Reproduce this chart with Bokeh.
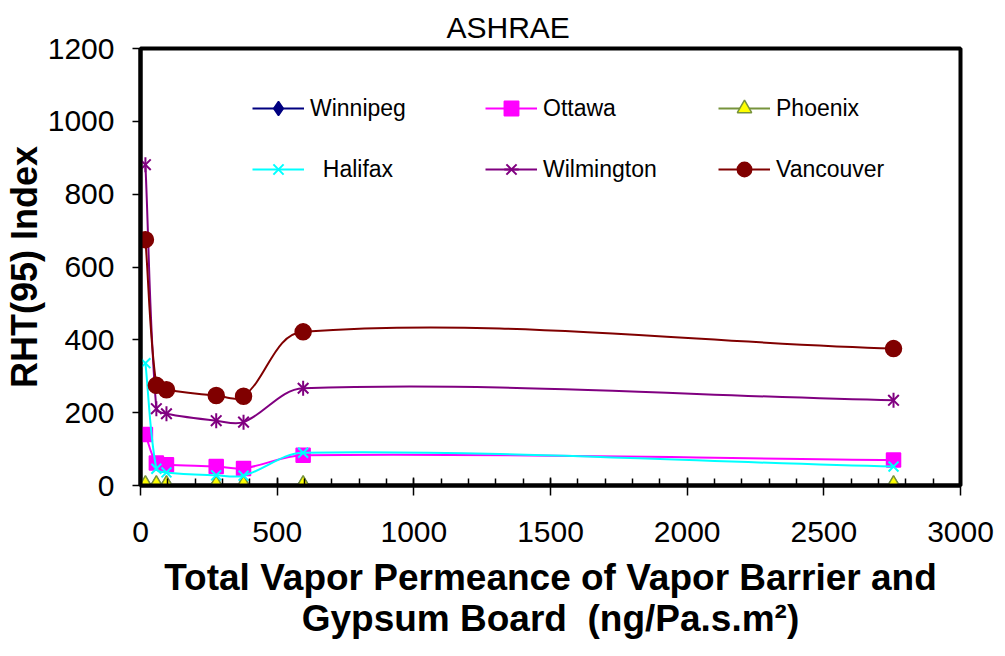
import math
from bokeh.plotting import figure
from bokeh.models import Range1d, SingleIntervalTicker, Legend, LegendItem
from bokeh.embed import file_html
from bokeh.resources import INLINE

# ---- data ----
x_vals = [18, 58, 95, 277, 377, 595, 2755]
winnipeg = [0, 0, 0, 0, 0, 0, 0]
ottawa = [140, 62, 57, 52, 47, 83, 70]
phoenix = [0, 0, 0, 0, 0, 0, 0]
halifax = [336, 46, 36, 28, 27, 90, 52]
wilmington = [881, 211, 197, 178, 174, 267, 234]
vancouver = [675, 275, 263, 247, 245, 422, 376]

title_text = "ASHRAE"
y_label = "RHT(95) Index"
x_label = "Total Vapor Permeance of Vapor Barrier and\nGypsum Board \u00a0(ng/Pa.s.m\u00b2)"

FONT = "Liberation Sans"
FRAME_W, FRAME_H = 820, 437
X_MAX, Y_MAX = 3000, 1200

p = figure(width=1000, height=650, output_backend="svg", toolbar_location=None,
           x_range=Range1d(0, X_MAX), y_range=Range1d(0, Y_MAX),
           frame_width=FRAME_W, frame_height=FRAME_H,
           min_border_left=140, min_border_right=40, min_border_top=48, min_border_bottom=165)
p.background_fill_color = "white"
p.border_fill_color = "white"
p.xgrid.visible = False
p.ygrid.visible = False
p.outline_line_color = "black"
p.outline_line_width = 4

p.title.text = title_text
p.title.align = "left"
p.title.offset = 306
p.title.standoff = 9
p.title.text_font = FONT
p.title.text_font_size = "30px"
p.title.text_font_style = "normal"
p.title.text_color = "black"

p.xaxis.ticker = SingleIntervalTicker(interval=500, num_minor_ticks=5)
p.yaxis.ticker = SingleIntervalTicker(interval=200, num_minor_ticks=0)
for ax in (p.xaxis, p.yaxis):
    ax.axis_line_width = 4
    ax.axis_line_color = "black"
    ax.major_tick_line_color = "black"
    ax.major_tick_line_width = 1.5
    ax.minor_tick_line_color = "black"
    ax.minor_tick_line_width = 1.5
    ax.major_label_text_font = FONT
    ax.major_label_text_font_size = "30px"
    ax.major_label_text_color = "black"
    ax.axis_label_text_font = FONT
    ax.axis_label_text_font_style = "bold"
    ax.axis_label_text_color = "black"

p.xaxis.major_tick_in = 8
p.xaxis.major_tick_out = 10
p.xaxis.minor_tick_in = 7
p.xaxis.minor_tick_out = 0
p.xaxis.major_label_standoff = 26
p.xaxis.axis_label = x_label
p.xaxis.axis_label_text_font_size = "37px"
p.xaxis.axis_label_text_line_height = 1.0
p.xaxis.axis_label_standoff = 12

p.yaxis.major_tick_in = 0
p.yaxis.major_tick_out = 8
p.yaxis.minor_tick_in = 0
p.yaxis.minor_tick_out = 0
p.yaxis.major_label_standoff = 18
p.yaxis.axis_label = y_label
p.yaxis.axis_label_text_font_size = "36px"
p.yaxis.axis_label_standoff = 0

# pixel per data unit, used only to shape the smoothed curve like a spreadsheet does
SX = FRAME_W / X_MAX
SY = FRAME_H / Y_MAX


def smooth_segments(xs, ys):
    """Bezier control points for a smoothed line through the data points."""
    n = len(xs)
    px = [v * SX for v in xs]
    py = [v * SY for v in ys]

    def tangent(i):
        a = max(i - 1, 0)
        b = min(i + 1, n - 1)
        dx, dy = px[b] - px[a], py[b] - py[a]
        L = math.hypot(dx, dy) or 1.0
        return dx / L, dy / L

    out = dict(x0=[], y0=[], x1=[], y1=[], cx0=[], cy0=[], cx1=[], cy1=[])
    for i in range(n - 1):
        d = math.hypot(px[i + 1] - px[i], py[i + 1] - py[i])
        t0 = tangent(i)
        t1 = tangent(i + 1)
        k = d / 3.0
        out["x0"].append(xs[i]); out["y0"].append(ys[i])
        out["x1"].append(xs[i + 1]); out["y1"].append(ys[i + 1])
        out["cx0"].append((px[i] + t0[0] * k) / SX)
        out["cy0"].append((py[i] + t0[1] * k) / SY)
        out["cx1"].append((px[i + 1] - t1[0] * k) / SX)
        out["cy1"].append((py[i + 1] - t1[1] * k) / SY)
    return out


series = [
    ("Winnipeg", winnipeg, "#000080", "diamond", "#000080", "#000080", 17),
    ("Ottawa", ottawa, "#FF00FF", "square", "#FF00FF", "#FF00FF", 14),
    ("Phoenix", phoenix, "#77933C", "triangle", "#FFFF00", "#77933C", 17),
    ("Halifax", halifax, "#00FFFF", "x", "#00FFFF", "#00FFFF", 14),
    ("Wilmington", wilmington, "#800080", "asterisk6", "#800080", "#800080", 15),
    ("Vancouver", vancouver, "#800000", "circle", "#800000", "#800000", 16),
]

legend_items = []
for name, ys, lcol, marker, fcol, mlcol, size in series:
    seg = smooth_segments(x_vals, ys)
    r_line = p.bezier(x0=seg["x0"], y0=seg["y0"], x1=seg["x1"], y1=seg["y1"],
                      cx0=seg["cx0"], cy0=seg["cy0"], cx1=seg["cx1"], cy1=seg["cy1"],
                      line_color=lcol, line_width=2)
    rends = [r_line]
    if marker == "asterisk6":
        rends.append(p.scatter(x_vals, ys, marker="x", size=size, line_color=mlcol, line_width=2))
        rends.append(p.scatter(x_vals, ys, marker="dash", angle=math.pi / 2, size=size,
                               line_color=mlcol, line_width=2))
    elif marker == "x":
        rends.append(p.scatter(x_vals, ys, marker="x", size=size, line_color=mlcol, line_width=2))
    else:
        rends.append(p.scatter(x_vals, ys, marker=marker, size=size, fill_color=fcol,
                               line_color=mlcol, line_width=1.5))
    label = "\u00a0\u00a0" + name if name == "Halifax" else name
    legend_items.append(LegendItem(label=label, renderers=rends))


def make_legend(items, loc):
    return Legend(items=items, location=loc, orientation="horizontal",
                  glyph_width=52, glyph_height=36, label_standoff=6, label_width=164,
                  spacing=11, padding=0, margin=0,
                  label_text_font=FONT, label_text_font_size="23px", label_text_color="black",
                  border_line_alpha=0, background_fill_alpha=0)


p.add_layout(make_legend(legend_items[:3], (112, 359)))
p.add_layout(make_legend(legend_items[3:], (112, 298)))

open("out.html", "w").write(file_html(p, INLINE))
